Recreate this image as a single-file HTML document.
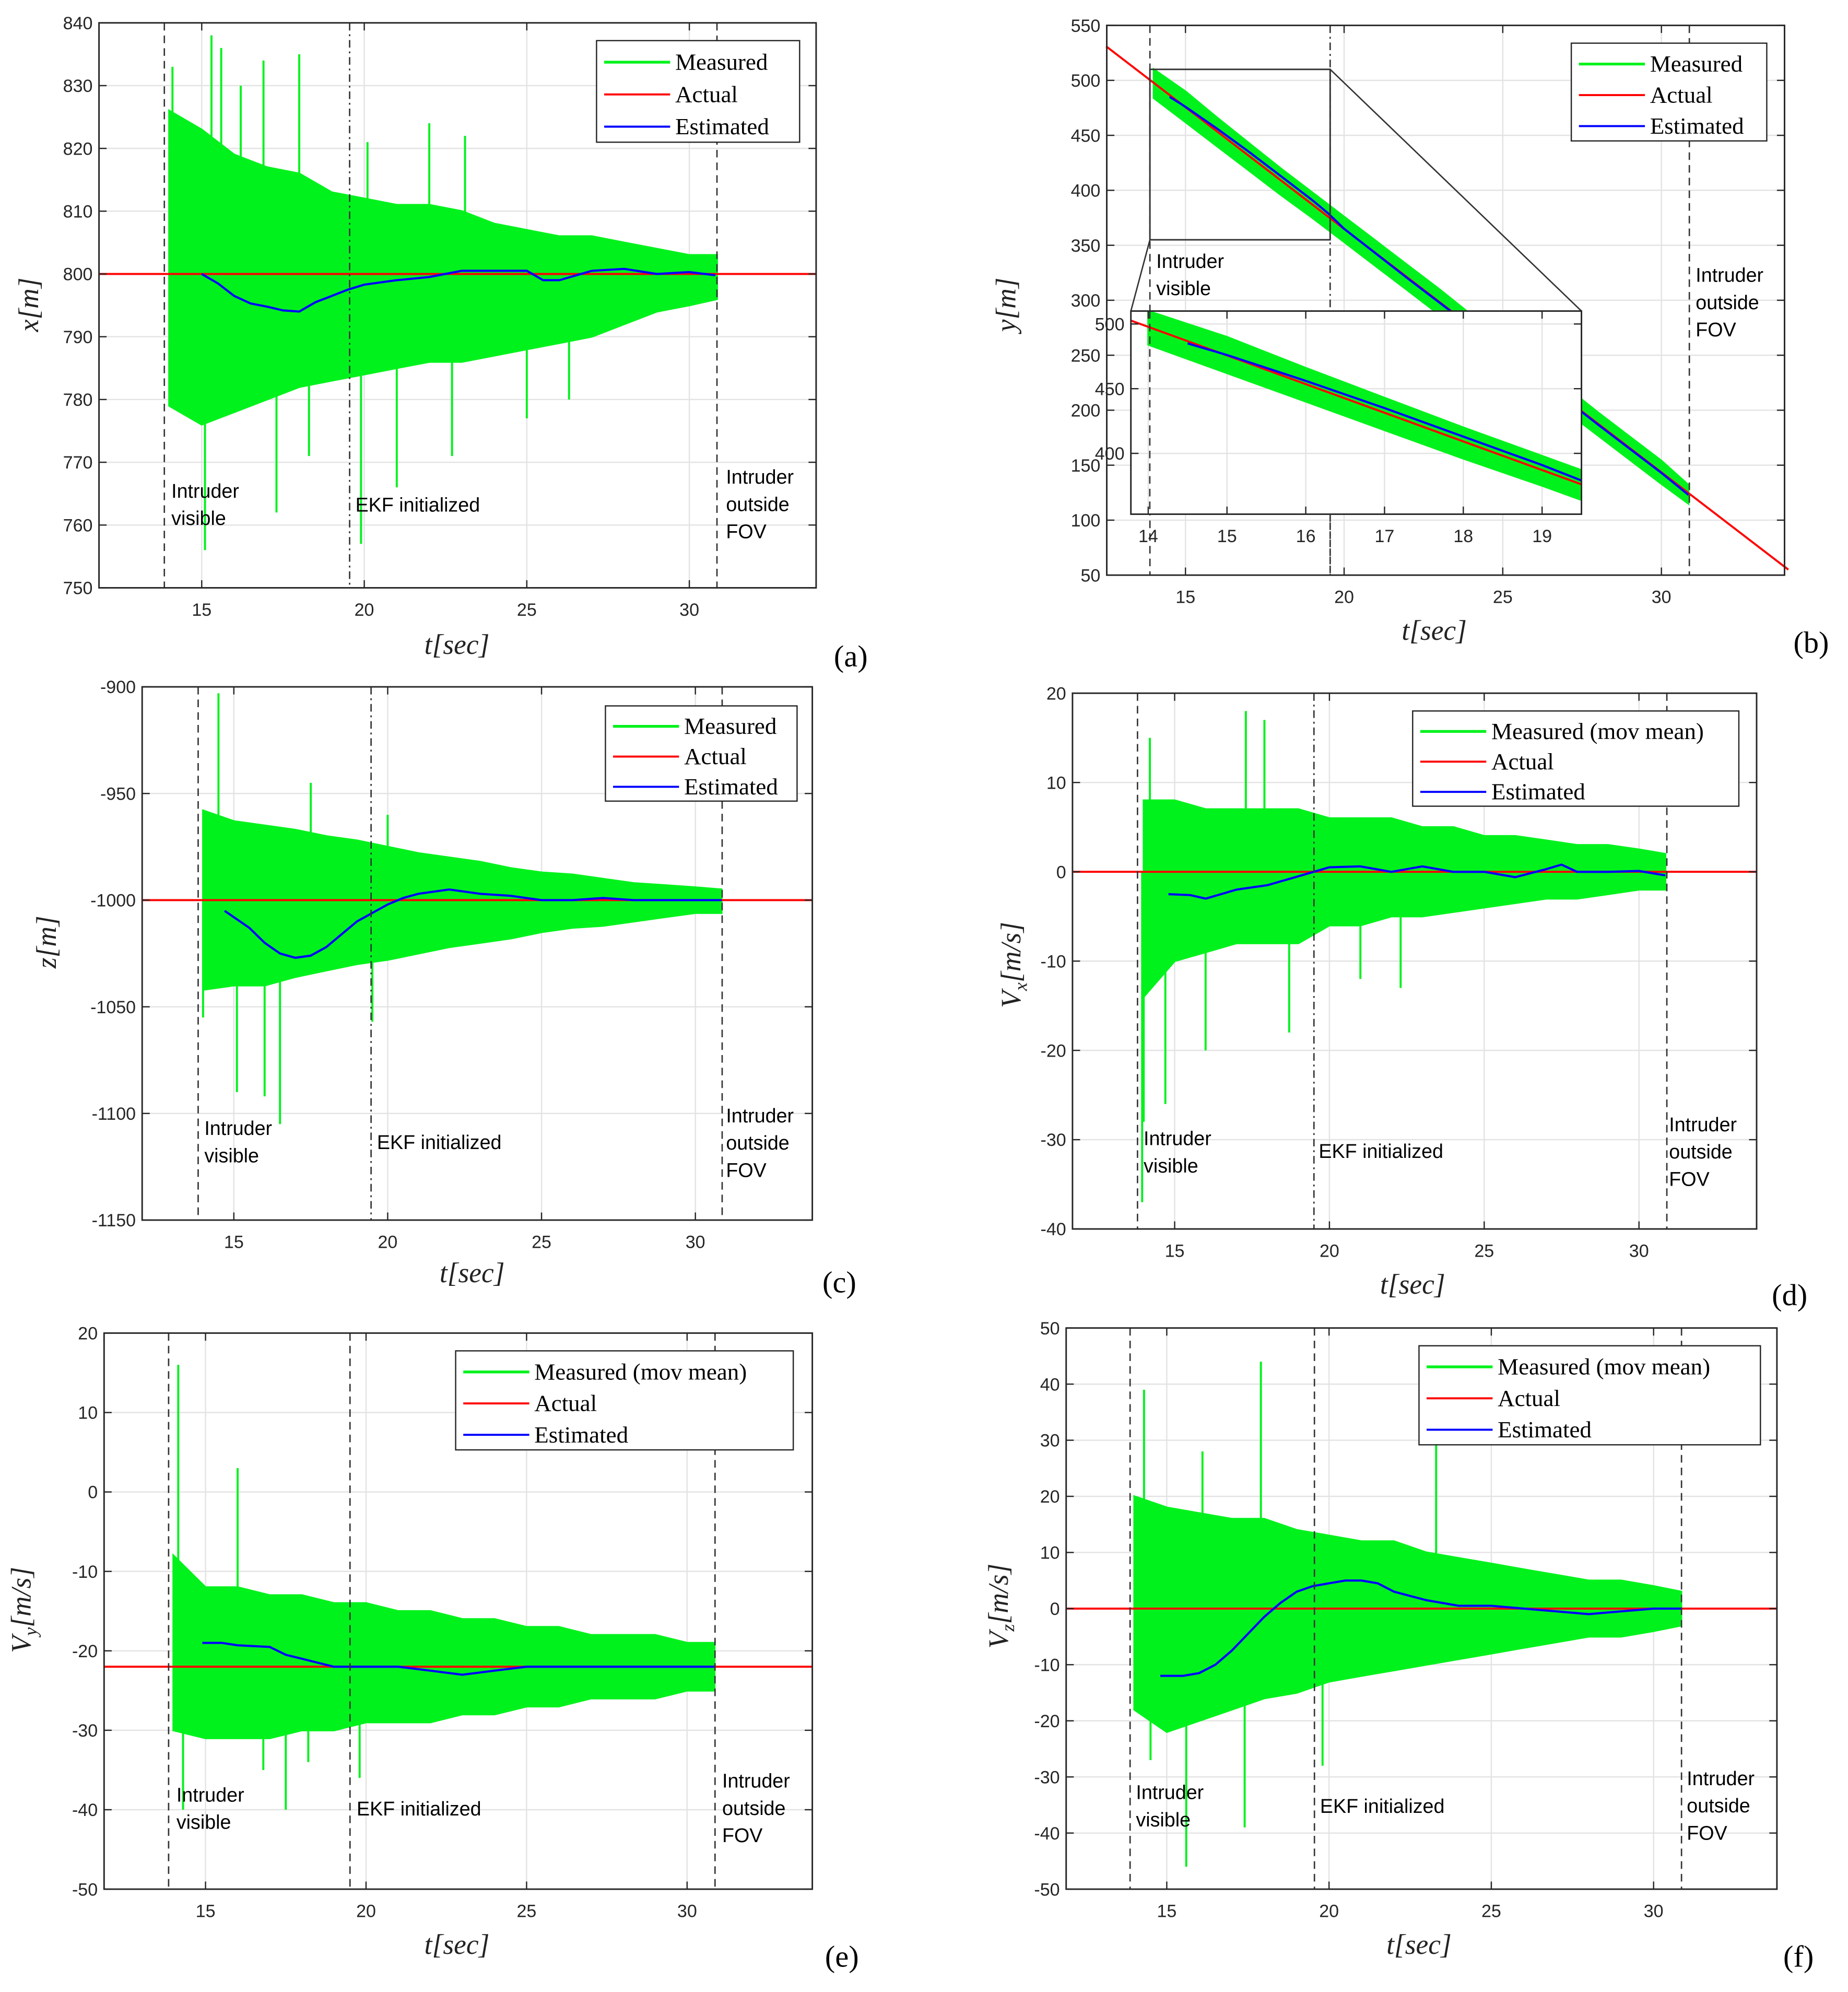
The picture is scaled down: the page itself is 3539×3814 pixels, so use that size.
<!DOCTYPE html>
<html><head><meta charset="utf-8">
<style>
html,body{margin:0;padding:0;background:#fff;}
svg{display:block;}
.tk{font-family:"Liberation Sans",sans-serif;font-size:14px;fill:#262626;}
.an{font-family:"Liberation Sans",sans-serif;font-size:15.5px;fill:#000;}
.lg{font-family:"Liberation Serif",serif;font-size:18.5px;fill:#000;}
.al{font-family:"Liberation Serif",serif;font-style:italic;font-size:22px;fill:#222;}
.pl{font-family:"Liberation Serif",serif;font-size:24px;fill:#000;}
</style></head>
<body>
<svg id="fig" width="3539" height="3814" viewBox="0 0 1456 1569" preserveAspectRatio="none" xmlns="http://www.w3.org/2000/svg"></svg>
<script>
// ---------------- DATA ----------------
const envT = [14,15,16,17,18,19,20,21,22,23,24,25,26,27,28,29,30,30.85];
// panel a: x[m]
const aUpper = [826,823,819,817,816,813,812,811,811,810,808,807,806,806,805,804,803,803];
const aLower = [779,776,778,780,782,783,784,785,786,786,787,788,789,790,792,794,795,796];
const aEstT = [15,15.5,16,16.5,17,17.5,18,18.5,19,19.5,20,21,22,23,24,25,25.5,26,27,28,29,30,30.8];
const aEstV = [800,798.5,796.5,795.3,794.8,794.2,794,795.5,796.5,797.5,798.3,799,799.5,800.5,800.5,800.5,799,799,800.5,800.8,800,800.3,799.8];
const aActual = 800;
const aSpikeT = [14.1,14.5,15.1,15.3,15.6,16.2,16.9,17.3,18.0,18.3,19.9,20.1,21.0,22.0,22.7,23.1,25.0,26.3];
const aSpikeV = [833,778,756,838,836,830,834,762,835,771,757,821,766,824,771,822,777,780];
// panel b: y[m]
const bActT = [12.5,34.0];
const bActV = [531,55];
const bUpper = [510,490,466,443,420,398,376,354,332,310,287,265,243,221,198,176,154,132];
const bLower = [484,462,440,418,396,375,353,331,309,287,265,243,221,199,177,155,133,115];
const bEstT = [14.5,15,16,17,18,19,19.5,20,22,24,26,28,30,30.85];
const bEstV = [485,476,456,435,413,391,379,365,320,276,232,187,143,123];
// panel c: z[m]
const cUpper = [-958,-963,-965,-967,-970,-972,-975,-978,-980,-982,-985,-987,-988,-990,-992,-993,-994,-995];
const cLower = [-1042,-1040,-1040,-1036,-1033,-1030,-1028,-1025,-1022,-1020,-1018,-1015,-1013,-1012,-1010,-1008,-1006,-1006];
const cEstT = [14.7,15.5,16,16.5,17,17.5,18,18.5,19,19.5,20,20.5,21,22,23,24,25,26,27,28,29,30,30.85];
const cEstV = [-1005,-1013,-1020,-1025,-1027,-1026,-1022,-1016,-1010,-1006,-1002,-999,-997,-995,-997,-998,-1000,-1000,-999,-1000,-1000,-1000,-1000];
const cActual = -1000;
const cSpikeT = [14.0,14.5,15.1,16.0,16.5,17.5,19.5,20.0];
const cSpikeV = [-1055,-903,-1090,-1092,-1105,-945,-1057,-960];
// panel d: Vx
const dUpper = [8,8,7,7,7,7,6,6,6,5,5,4,4,3.5,3,3,2.5,2];
const dLower = [-14,-10,-9,-8,-8,-8,-6,-6,-5,-5,-4.5,-4,-3.5,-3,-3,-2.5,-2,-2];
const dEstT = [14.8,15.5,16,17,18,19,20,21,22,23,24,25,26,27,27.5,28,29,30,30.85];
const dEstV = [-2.5,-2.6,-3,-2,-1.5,-0.5,0.5,0.6,0,0.6,0,0,-0.6,0.3,0.8,0,0,0.1,-0.4];
const dActual = 0;
const dSpikeT = [13.95,14.0,14.2,14.7,16.0,17.3,17.9,18.7,21.0,22.3];
const dSpikeV = [-37,-28,15,-26,-20,18,17,-18,-12,-13];
// panel e: Vy
const eUpper = [-8,-12,-12,-13,-13,-14,-14,-15,-15,-16,-16,-17,-17,-18,-18,-18,-19,-19];
const eLower = [-30,-31,-31,-31,-30,-30,-29,-29,-29,-28,-28,-27,-27,-26,-26,-26,-25,-25];
const eEstT = [14.9,15.5,16,17,17.5,18,18.5,19,20,21,22,23,24,25,26,27,28,29,30,30.85];
const eEstV = [-19,-19,-19.3,-19.5,-20.5,-21,-21.5,-22,-22,-22,-22.5,-23,-22.5,-22,-22,-22,-22,-22,-22,-22];
const eActual = -22;
const eSpikeT = [14.15,14.3,16.0,16.8,17.5,18.2,19.8];
const eSpikeV = [16,-40,3,-35,-40,-34,-36];
// panel f: Vz
const fUpper = [20,18,17,16,16,14,13,12,12,10,9,8,7,6,5,5,4,3];
const fLower = [-18,-22,-20,-18,-16,-15,-13,-12,-11,-10,-9,-8,-7,-6,-5,-5,-4,-3];
const fEstT = [14.8,15.5,16,16.5,17,17.5,18,18.5,19,19.5,20,20.5,21,21.5,22,23,24,25,26,27,28,29,30,30.85];
const fEstV = [-12,-12,-11.5,-10,-7.5,-4.5,-1.5,1,3,4,4.5,5,5,4.5,3,1.5,0.5,0.5,0,-0.5,-1,-0.5,0,0];
const fActual = 0;
const fSpikeT = [14.3,14.5,15.6,16.1,17.4,17.9,19.8,23.3];
const fSpikeV = [39,-27,-46,28,-39,44,-28,30];

const yTicksA = [750,760,770,780,790,800,810,820,830,840];
const yTicksB = [50,100,150,200,250,300,350,400,450,500,550];
const yTicksBi = [400,450,500];
const xTicksBi = [14,15,16,17,18,19];
const yTicksC = [-1150,-1100,-1050,-1000,-950,-900];
const yTicksD = [-40,-30,-20,-10,0,10,20];
const yTicksE = [-50,-40,-30,-20,-10,0,10,20];
const yTicksF = [-50,-40,-30,-20,-10,0,10,20,30,40,50];
const xTicks = [15,20,25,30];

// ---------------- DRAW ----------------
const NS = "http://www.w3.org/2000/svg";
const fig = document.getElementById('fig');
function mk(tag, attrs, parent){
  const el = document.createElementNS(NS, tag);
  for (const k in attrs) el.setAttribute(k, attrs[k]);
  (parent||fig).appendChild(el);
  return el;
}
function txt(s, x, y, cls, parent, anchor){
  const el = mk('text', {x:x, y:y, class:cls, 'text-anchor':anchor||'start'}, parent);
  el.textContent = s;
  return el;
}
function scales(c){
  c.sx = t => c.L + (t - c.x0) / (c.x1 - c.x0) * (c.R - c.L);
  c.sy = v => c.B - (v - c.y0) / (c.y1 - c.y0) * (c.B - c.T);
}
function drawAxesBase(c, g){
  c.xticks.forEach(t=>{
    const l = mk('line',{x1:c.sx(t),x2:c.sx(t),y1:c.T,y2:c.B,stroke:'#e3e3e3','stroke-width':1},g);
    
    
  });
  c.yticks.forEach(v=>{
    const l = mk('line',{x1:c.L,x2:c.R,y1:c.sy(v),y2:c.sy(v),stroke:'#e3e3e3','stroke-width':1},g);
    
    
  });
}
function drawFrame(c, g, labels){
  const r = mk('rect',{x:c.L,y:c.T,width:c.R-c.L,height:c.B-c.T,fill:'none',stroke:'#262626','stroke-width':1.2},g);
  
  
  c.xticks.forEach(t=>{
    const x=c.sx(t);
    mk('line',{x1:x,x2:x,y1:c.B,y2:c.B-6,stroke:'#262626'},g);
    mk('line',{x1:x,x2:x,y1:c.T,y2:c.T+6,stroke:'#262626'},g);
    if(labels!==false){
      const tl = txt(String(t), x, c.B+22, 'tk', g, 'middle');
      
      
    }
  });
  c.yticks.forEach(v=>{
    const y=c.sy(v);
    mk('line',{x1:c.L,x2:c.L+6,y1:y,y2:y,stroke:'#262626'},g);
    mk('line',{x1:c.R,x2:c.R-6,y1:y,y2:y,stroke:'#262626'},g);
    const tl = txt(String(v), c.L-5, y+5, 'tk', g, 'end');
    
    
  });
}
function band(c, g, T, up, lo){
  let d='';
  T.forEach((t,i)=>{ d += (i?'L':'M')+c.sx(t).toFixed(1)+','+c.sy(up[i]).toFixed(1); });
  for(let i=T.length-1;i>=0;i--){ d += 'L'+c.sx(T[i]).toFixed(1)+','+c.sy(lo[i]).toFixed(1); }
  const p = mk('path',{d:d+'Z',fill:'#00f21c',stroke:'#00f21c','stroke-width':1.5},g);
  
  
}
function spikes(c, g, T, V, base){
  T.forEach((t,i)=>{
    const l = mk('line',{x1:c.sx(t),x2:c.sx(t),y1:c.sy(base),y2:c.sy(V[i]),stroke:'#00f21c','stroke-width':1.6},g);
    
    
  });
}
function line(c, g, T, V, color, name, w){
  const pts = T.map((t,i)=>c.sx(t).toFixed(1)+','+c.sy(V[i]).toFixed(1)).join(' ');
  const p = mk('polyline',{points:pts,fill:'none',stroke:color,'stroke-width':w||1.6},g);
  
  
}
function vline(c, g, t, dash, yTop, yBot){
  const l = mk('line',{x1:c.sx(t),x2:c.sx(t),y1:yTop===undefined?c.T:yTop,y2:yBot===undefined?c.B:yBot,stroke:'#333','stroke-width':1.1,'stroke-dasharray':dash?'6,3,1.5,3':'6,4'},g);
  
  
}
function legend(g, x, y, w, h, labels){
  const box = mk('rect',{x:x,y:y,width:w,height:h,fill:'#fff',stroke:'#262626','stroke-width':1},g);
  
  
  const cols=['#00f21c','#ff0000','#0000ff'];
  const step = h/3.15;
  labels.forEach((s,i)=>{
    const yy = y + step*(i+0.55)+3;
    const l = mk('line',{x1:x+6,x2:x+58,y1:yy,y2:yy,stroke:cols[i],'stroke-width':i==0?2.2:1.6},g);
    
    
    const tl = txt(s, x+62, yy+6, 'lg', g);
    
    
  });
}
function annot(g, lines, x, y){
  lines.forEach((s,i)=>{
    const tl = txt(s, x, y+i*21.5, 'an', g);
    
    
  });
}
function labelsAll(g, c, xl, yl, ylx, yly, pl, plx, ply, sub){
  const xt = txt('t[sec]', xl[0], xl[1], 'al', g, 'middle');
  
  
  const yt = mk('text',{x:0,y:0,class:'al','text-anchor':'middle'},g);
  if(sub){
    const a = mk('tspan',{},yt); a.textContent = yl;
    const b = mk('tspan',{'font-size':'15','dy':'5'},yt); b.textContent = sub;
    const c2 = mk('tspan',{'dy':'-5'},yt); c2.textContent = '[m/s]';
  } else {
    yt.textContent = yl;
  }
  yt.setAttribute('transform','translate('+ylx+','+yly+') rotate(-90)');
  
  
  const pt = txt(pl, plx, ply, 'pl', g);
  
  
}
function standard(cfg){
  const g = mk('g',{});
  
  
  scales(cfg);
  drawAxesBase(cfg,g);
  band(cfg,g,envT.map(t=>Math.min(t,cfg.tEnd)),cfg.up,cfg.lo);
  spikes(cfg,g,cfg.spT,cfg.spV,cfg.actual);
  const al = mk('line',{x1:cfg.L,x2:cfg.R,y1:cfg.sy(cfg.actual),y2:cfg.sy(cfg.actual),stroke:'#ff0000','stroke-width':1.6},g);
  
  
  line(cfg,g,cfg.estT,cfg.estV,'#0000ff','estimated-series',1.7);
  cfg.vl.forEach(v=>vline(cfg,g,v[0],v[1]));
  drawFrame(cfg,g);
  legend(g,cfg.lg[0],cfg.lg[1],cfg.lg[2],cfg.lg[3],cfg.lgl);
  annot(g,['Intruder','visible'],cfg.an1[0],cfg.an1[1]);
  annot(g,['EKF initialized'],cfg.an2[0],cfg.an2[1]);
  annot(g,['Intruder','outside','FOV'],cfg.an3[0],cfg.an3[1]);
  labelsAll(g,cfg,cfg.xl,cfg.yl,cfg.ylp[0],cfg.ylp[1],cfg.pl,cfg.plp[0],cfg.plp[1],cfg.sub);
}
const L3 = ['Measured','Actual','Estimated'];
const L3m = ['Measured (mov mean)','Actual','Estimated'];
standard({name:'panel-a-x-position',L:78,T:18,R:643,B:463,x0:11.84,x1:33.9,y0:750,y1:840,yticks:yTicksA,xticks:xTicks,
  tEnd:30.85,up:aUpper,lo:aLower,spT:aSpikeT,spV:aSpikeV,actual:aActual,estT:aEstT,estV:aEstV,
  vl:[[13.85,false],[19.55,true],[30.85,false]],lg:[470,32,160,80],lgl:L3,
  an1:[135,392],an2:[280,403],an3:[572,381],xl:[360,515],yl:'x[m]',ylp:[30,240],pl:'(a)',plp:[657,525]});
standard({name:'panel-c-z-position',L:112,T:541,R:640,B:961,x0:12.02,x1:33.8,y0:-1150,y1:-900,yticks:yTicksC,xticks:xTicks,
  tEnd:30.87,up:cUpper,lo:cLower,spT:cSpikeT,spV:cSpikeV,actual:cActual,estT:cEstT,estV:cEstV,
  vl:[[13.84,false],[19.46,true],[30.87,false]],lg:[477,556,151,75],lgl:L3,
  an1:[161,894],an2:[297,905],an3:[572,884],xl:[372,1010],yl:'z[m]',ylp:[44,742],pl:'(c)',plp:[648,1018]});
standard({name:'panel-d-vx',L:845,T:546,R:1384,B:968,x0:11.7,x1:33.8,y0:-40,y1:20,yticks:yTicksD,xticks:xTicks,
  tEnd:30.9,up:dUpper,lo:dLower,spT:dSpikeT,spV:dSpikeV,actual:dActual,estT:dEstT,estV:dEstV,
  vl:[[13.8,false],[19.5,true],[30.9,false]],lg:[1113,560,257,75],lgl:L3m,
  an1:[901,902],an2:[1039,912],an3:[1315,891],xl:[1113,1019],yl:'V',sub:'x',ylp:[804,760],pl:'(d)',plp:[1396,1028]});
standard({name:'panel-e-vy',L:82,T:1050,R:640,B:1488,x0:11.84,x1:33.9,y0:-50,y1:20,yticks:yTicksE,xticks:xTicks,
  tEnd:30.87,up:eUpper,lo:eLower,spT:eSpikeT,spV:eSpikeV,actual:eActual,estT:eEstT,estV:eEstV,
  vl:[[13.85,false],[19.5,false],[30.87,false]],lg:[359,1064,266,78],lgl:L3m,
  an1:[139,1419],an2:[281,1430],an3:[569,1408],xl:[360,1539],yl:'V',sub:'y',ylp:[24,1268],pl:'(e)',plp:[650,1549]});
standard({name:'panel-f-vz',L:840,T:1046,R:1400,B:1488,x0:11.9,x1:33.8,y0:-50,y1:50,yticks:yTicksF,xticks:xTicks,
  tEnd:30.86,up:fUpper,lo:fLower,spT:fSpikeT,spV:fSpikeV,actual:fActual,estT:fEstT,estV:fEstV,
  vl:[[13.87,false],[19.55,false],[30.86,false]],lg:[1118,1060,269,78],lgl:L3m,
  an1:[895,1417],an2:[1040,1428],an3:[1329,1406],xl:[1118,1539],yl:'V',sub:'z',ylp:[794,1265],pl:'(f)',plp:[1405,1549]});

// panel b
(function(){
  const c = {L:872,T:20,R:1406,B:453,x0:12.52,x1:33.88,y0:50,y1:550,yticks:yTicksB,xticks:xTicks};
  const g = mk('g',{});
  
  
  scales(c);
  drawAxesBase(c,g);
  band(c,g,envT.map(t=>Math.min(t,30.88)),bUpper,bLower);
  line(c,g,bActT,bActV,'#ff0000','actual-series',1.6);
  line(c,g,bEstT,bEstV,'#0000ff','estimated-series',1.7);
  vline(c,g,13.88,false); vline(c,g,19.56,true); vline(c,g,30.88,false);
  const zr = mk('rect',{x:c.sx(13.88),y:c.sy(510),width:c.sx(19.56)-c.sx(13.88),height:c.sy(355)-c.sy(510),fill:'none',stroke:'#333','stroke-width':1.2},g);
  
  
  const ic = {L:891,T:245,R:1246,B:405,x0:13.78,x1:19.5,y0:353,y1:510,yticks:yTicksBi,xticks:xTicksBi};
  scales(ic);
  const c1 = mk('line',{x1:c.sx(19.56),y1:c.sy(510),x2:ic.R,y2:ic.T,stroke:'#333','stroke-width':1.1},g);
  
  
  const c2 = mk('line',{x1:c.sx(13.88),y1:c.sy(355),x2:ic.L,y2:ic.T,stroke:'#333','stroke-width':1.1},g);
  
  
  const ig = mk('g',{},g);
  
  
  mk('rect',{x:ic.L,y:ic.T,width:ic.R-ic.L,height:ic.B-ic.T,fill:'#fff'},ig);
  const cp = mk('clipPath',{id:'insetclip'},ig);
  mk('rect',{x:ic.L,y:ic.T,width:ic.R-ic.L,height:ic.B-ic.T},cp);
  drawAxesBase(ic,ig);
  const inner = mk('g',{'clip-path':'url(#insetclip)'},ig);
  band(ic,inner,envT.map(t=>Math.min(t,30.88)),bUpper,bLower);
  line(ic,inner,bActT,bActV,'#ff0000','actual-series',1.6);
  line(ic,inner,bEstT,bEstV,'#0000ff','estimated-series',1.7);
  vline(ic,ig,14.02,false);
  drawFrame(ic,ig);
  vline(c,g,19.56,true,ic.B,c.B);
  drawFrame(c,g);
  legend(g,1238,34,154,77,L3);
  annot(g,['Intruder','visible'],911,211);
  annot(g,['Intruder','outside','FOV'],1336,222);
  labelsAll(g,c,[1130,504],'y[m]',800,240,'(b)',1413,514);
})();
</script>
</body></html>
